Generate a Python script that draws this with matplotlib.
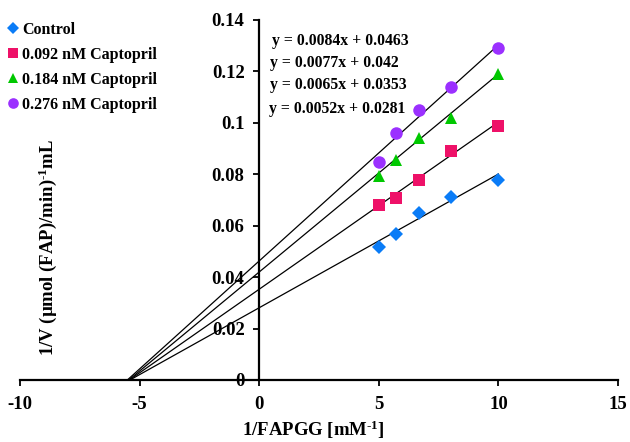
import matplotlib
matplotlib.use("Agg")
import matplotlib.pyplot as plt
import numpy as np

plt.rcParams['font.family'] = ['Liberation Serif', 'DejaVu Serif']
plt.rcParams['font.weight'] = 'bold'
plt.rcParams['mathtext.fontset'] = 'custom'
plt.rcParams['mathtext.rm'] = 'Liberation Serif:bold'
plt.rcParams['mathtext.bf'] = 'Liberation Serif:bold'
plt.rcParams['mathtext.it'] = 'Liberation Serif:bold'
plt.rcParams['mathtext.default'] = 'bf'

x_vals = [5.0, 5.714, 6.667, 8.0, 10.0]
series_names = ["Control", "0.092 nM Captopril", "0.184 nM Captopril", "0.276 nM Captopril"]
control = [0.0516, 0.0568, 0.0651, 0.0711, 0.0778]
capt_092 = [0.0680, 0.0709, 0.0779, 0.0891, 0.0986]
capt_184 = [0.0795, 0.0856, 0.0940, 0.1018, 0.1190]
capt_276 = [0.0849, 0.0960, 0.1051, 0.1139, 0.1291]
slopes = [0.0052, 0.0065, 0.0077, 0.0084]
intercepts = [0.0281, 0.0353, 0.042, 0.0463]
eq_labels = ["y = 0.0084x + 0.0463", "y = 0.0077x + 0.042",
             "y = 0.0065x + 0.0353", "y = 0.0052x + 0.0281"]
x_ticks = [-10, -5, 0, 5, 10, 15]
y_ticks = [0, 0.02, 0.04, 0.06, 0.08, 0.1, 0.12, 0.14]
y_ticklabels = ["0", "0.02", "0.04", "0.06", "0.08", "0.1", "0.12", "0.14"]

colors = ["#0A7CF7", "#EE1168", "#00C800", "#9B30FF"]
markers = ["D", "s", "^", "o"]
msizes = [7.5, 8.5, 9, 9]

fig = plt.figure(figsize=(6.3, 4.42), dpi=100)
ax = fig.add_axes([20/630, 1 - 380/442, 598/630, 360/442])

# fitted lines
for m, b in zip(slopes, intercepts):
    x0 = -b / m
    xs = np.array([x0, 10.0])
    ax.plot(xs, m * xs + b, color='black', lw=0.9, zorder=2)

handles = []
for data, c, mk, ms, name in zip([control, capt_092, capt_184, capt_276], colors, markers, msizes, series_names):
    h, = ax.plot(x_vals, data, linestyle='none', marker=mk, color=c, markersize=ms,
                 markeredgewidth=0, label=name, zorder=3)
    handles.append(h)

ax.set_xlim(-10, 15)
ax.set_ylim(0, 0.14)
ax.spines['top'].set_visible(False)
ax.spines['right'].set_visible(False)
ax.spines['left'].set_position(('data', 0))
ax.spines['left'].set_linewidth(1.6)
ax.spines['bottom'].set_linewidth(1.6)
ax.set_xticks(x_ticks)
ax.set_xticklabels([str(t) for t in x_ticks], fontsize=13.5, fontweight='bold')
ax.set_yticks(y_ticks)
ax.set_yticklabels(y_ticklabels, fontsize=13.5, fontweight='bold')
ax.tick_params(axis='both', direction='out', length=4.5, width=1.3)
ax.tick_params(axis='x', pad=7)
ax.tick_params(axis='y', pad=6)
ax.patch.set_alpha(0)

ex = [0.55, 0.45, 0.45, 0.4]
ey = [0.1320, 0.1234, 0.1149, 0.1054]
for tx, ty, lab in zip(ex, ey, eq_labels):
    ax.text(tx, ty, lab, fontsize=11.3, fontweight='bold', va='center', ha='left')

fig.text(313/630, 1 - 430/442, "1/FAPGG [mM$^{\\text{-}1}$]", ha='center', va='center',
         fontsize=13.5, fontweight='bold')
fig.text(48/630, 1 - 247/442, "1/V (µmol (FAP)/min)$^{\\text{-}1}$mL", ha='center', va='center',
         rotation=90, fontsize=13.5, fontweight='bold')

leg = fig.legend(handles=handles, loc='upper left', bbox_to_anchor=(9/630, 1 - 22/442),
                 frameon=False, handlelength=0.5, handletextpad=0.3, labelspacing=0.56,
                 borderpad=0.0, borderaxespad=0.0, prop={'weight': 'bold', 'size': 11.5},
                 markerscale=0.85)

fig.savefig("out.png", dpi=100)
